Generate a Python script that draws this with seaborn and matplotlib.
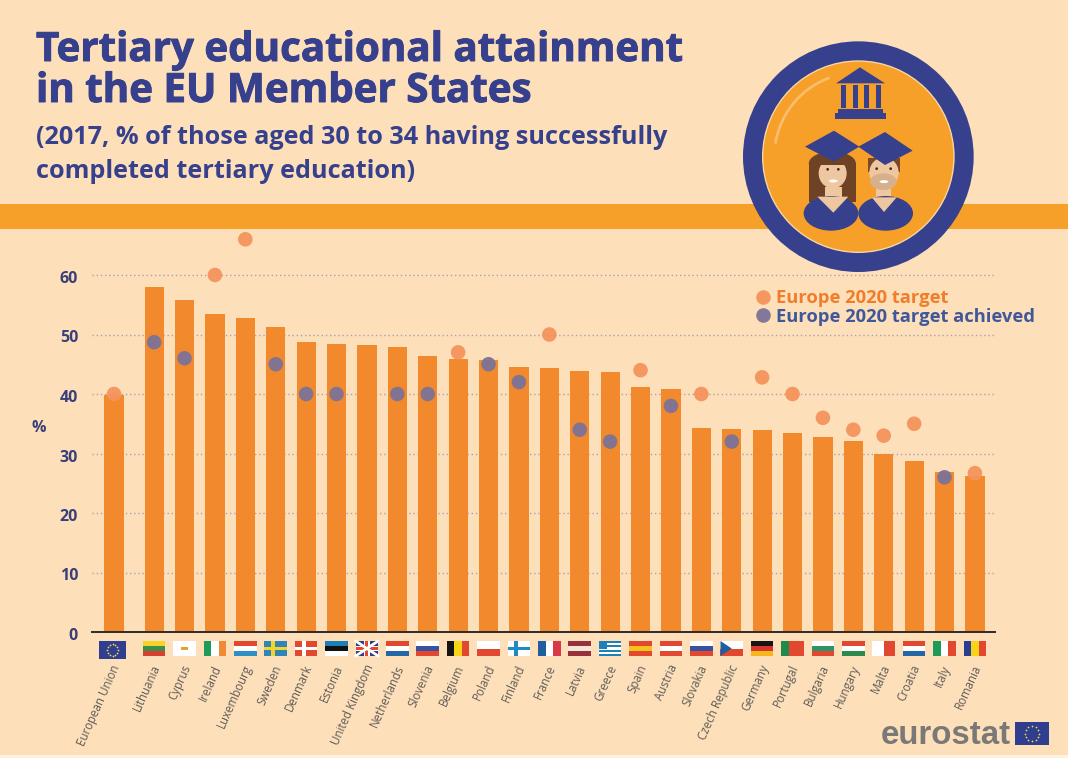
import numpy as np
import pandas as pd
import matplotlib
matplotlib.use('Agg')
import matplotlib.pyplot as plt
import matplotlib.patheffects as pe
import seaborn as sns
from matplotlib.patches import Rectangle, Circle, Ellipse, Polygon, Wedge
from matplotlib.transforms import Affine2D, ScaledTranslation, blended_transform_factory

countries = ['European Union', 'Lithuania', 'Cyprus', 'Ireland', 'Luxembourg', 'Sweden', 'Denmark', 'Estonia',
             'United Kingdom', 'Netherlands', 'Slovenia', 'Belgium', 'Poland', 'Finland', 'France', 'Latvia',
             'Greece', 'Spain', 'Austria', 'Slovakia', 'Czech Republic', 'Germany', 'Portugal', 'Bulgaria',
             'Hungary', 'Malta', 'Croatia', 'Italy', 'Romania']
attainment = [39.9, 58.0, 55.8, 53.5, 52.7, 51.3, 48.8, 48.4, 48.3, 47.9, 46.4, 45.9, 45.7, 44.6, 44.3,
              43.8, 43.7, 41.2, 40.8, 34.3, 34.2, 34.0, 33.5, 32.8, 32.1, 30.0, 28.7, 26.9, 26.3]
target = [40, 48.7, 46, 60, 66, 45, 40, 40, None, 40, 40, 47, 45, 42, 50,
          34, 32, 44, 38, 40, 32, 42.8, 40, 36, 34, 33, 35, 26, 26.7]
achieved = [0, 1, 1, 0, 0, 1, 1, 1, 0, 1, 1, 0, 1, 1, 0,
            1, 1, 0, 1, 0, 1, 0, 0, 0, 0, 0, 0, 1, 0]
y_ticks = [0, 10, 20, 30, 40, 50, 60]

W, H = 1068, 758
BG = '#FDE0B9'
NAVY = '#37408C'
BAND = '#F7A029'
BAR = '#F28A2D'
GREY = '#5F5A58'

# gap after the EU bar
pos = np.r_[0, 1.32 + np.arange(len(countries) - 1)]
df = pd.DataFrame({'country': countries, 'pos': pos, 'attainment': attainment, 'target': target})
df['status'] = np.where(np.array(achieved) == 1, 'Europe 2020 target achieved', 'Europe 2020 target')

sns.set_theme(style='white')
plt.rcParams['font.family'] = ['Open Sans', 'DejaVu Sans']

fig = plt.figure(figsize=(W / 100, H / 100), dpi=100, facecolor=BG)

# background layer in pixel coordinates
bg = fig.add_axes([0, 0, 1, 1], zorder=0)
bg.set_xlim(0, W)
bg.set_ylim(H, 0)
bg.axis('off')
bg.add_patch(Rectangle((0, 204), W, 25, color=BAND, lw=0))
bg.add_patch(Rectangle((0, 755), W, 3, color='#FFF1DE', lw=0))

heavy = [pe.withStroke(linewidth=0.7, foreground=NAVY)]
bg.text(36, 61, 'Tertiary educational attainment', fontsize=29, fontweight='bold', color=NAVY, path_effects=heavy)
bg.text(36, 102, 'in the EU Member States', fontsize=29, fontweight='bold', color=NAVY, path_effects=heavy)
bg.text(36, 144, '(2017, % of those aged 30 to 34 having successfully', fontsize=18.2, fontweight='bold', color=NAVY)
bg.text(36, 178, 'completed tertiary education)', fontsize=18.2, fontweight='bold', color=NAVY)

# main chart
left, right, base, unit = 92, 995, 632, 5.95
ax = fig.add_axes([left / W, (H - base) / H, (right - left) / W, 70 * unit / H], zorder=1)
ax.patch.set_alpha(0)
sns.barplot(data=df, x='pos', y='attainment', native_scale=True, color=BAR, saturation=1, width=0.63,
            linewidth=0, ax=ax)
sns.scatterplot(data=df.dropna(subset=['target']), x='pos', y='target', hue='status',
                palette={'Europe 2020 target': '#F5935B', 'Europe 2020 target achieved': '#7C7396'},
                s=110, linewidth=0, alpha=0.95, zorder=5, ax=ax)

ax.set_xlim((left - 114) / 30.4, (right - 114) / 30.4)
ax.set_ylim(0, 70)
ax.set_yticks(y_ticks)
ax.set_xticks(pos, labels=countries)
ax.tick_params(axis='y', length=0, pad=10, labelsize=11.5, labelcolor='#3B3F78')
ax.tick_params(axis='x', length=0, pad=24, labelsize=8.3, labelcolor=GREY)
down = ScaledTranslation(0, -2 / 100, fig.dpi_scale_trans)
across = ScaledTranslation(3 / 100, 0, fig.dpi_scale_trans)
for t in ax.get_yticklabels():
    t.set_fontweight('bold')
    t.set_transform(t.get_transform() + down)
for t in ax.get_xticklabels():
    t.set_rotation(66)
    t.set_ha('right')
    t.set_va('center')
    t.set_rotation_mode('anchor')
    t.set_transform(t.get_transform() + across)
ax.set_xlabel('')
ax.set_ylabel('%', rotation=0, fontsize=11.5, fontweight='bold', color='#3B3F78', va='center')
ax.yaxis.set_label_coords((39 - left) / (right - left), (base - 428) / (70 * unit))
ax.set_axisbelow(True)
ax.yaxis.grid(True, linestyle=(0, (1, 2)), color='#A8A0B4', linewidth=1)
sns.despine(ax=ax, left=True, top=True, right=True)
ax.spines['bottom'].set_color('#2F2A2A')
ax.spines['bottom'].set_linewidth(1.4)

leg = ax.legend(loc='upper left', bbox_to_anchor=((752 - left) / (right - left), (base - 289) / (70 * unit)),
                frameon=False, fontsize=13.2, handletextpad=0.1, labelspacing=0.03, borderpad=0, borderaxespad=0,
                handlelength=1.2)
for txt, col in zip(leg.get_texts(), ['#F07D2C', '#40589B']):
    txt.set_color(col)
    txt.set_fontweight('bold')

# flags, x in data units of the chart, y in pixels
top_layer = fig.add_axes([0, 0, 1, 1], zorder=2)
top_layer.set_xlim(0, W)
top_layer.set_ylim(H, 0)
top_layer.axis('off')
flag_tr = blended_transform_factory(ax.transData, top_layer.transData)
FW, FY, FH = 0.74, 641, 15


def rect(x, y, w, h, c):
    top_layer.add_patch(Rectangle((x, y), w, h, color=c, lw=0, transform=flag_tr))


def stripes(x, kind, cols):
    n = len(cols)
    for i, c in enumerate(cols):
        if kind == 'h':
            rect(x - FW / 2, FY + i * FH / n, FW, FH / n, c)
        else:
            rect(x - FW / 2 + i * FW / n, FY, FW / n, FH, c)


def cross(x, base_col, col):
    rect(x - FW / 2, FY, FW, FH, base_col)
    rect(x - FW / 2 + FW * 0.3, FY, FW * 0.18, FH, col)
    rect(x - FW / 2, FY + FH * 0.4, FW, FH * 0.2, col)


R, WH, B = '#E2472F', '#FFFFFF', '#1F6FA8'
flags = {
    'Lithuania': ('h', ['#F5D327', '#3F8E4A', '#D5412E']), 'Ireland': ('v', ['#1E9A59', WH, '#F08A33']),
    'Luxembourg': ('h', [R, WH, '#2E8FC4']), 'Estonia': ('h', ['#1C7FB5', '#111111', WH]),
    'Netherlands': ('h', [R, WH, '#2467A5']), 'Slovenia': ('h', [WH, '#3852A0', R]),
    'Belgium': ('v', ['#151515', '#F7D417', R]), 'Poland': ('h', [WH, R]),
    'France': ('v', ['#1F5FA0', WH, '#D83A4A']), 'Latvia': ('h', ['#97323A', '#F6E6D6', '#97323A']),
    'Spain': ('h', [R, '#F6C21C', R]), 'Austria': ('h', [R, WH, R]), 'Slovakia': ('h', [WH, '#3852A0', R]),
    'Germany': ('h', ['#151515', '#D9352A', '#F5B81C']), 'Portugal': ('v', ['#1E8A4C', R, R]),
    'Bulgaria': ('h', [WH, '#2C9466', R]), 'Hungary': ('h', [R, WH, '#2C8A4E']), 'Malta': ('v', [WH, R]),
    'Croatia': ('h', [R, WH, '#2467A5']), 'Italy': ('v', ['#1E9A59', WH, R]),
    'Romania': ('v', ['#2A3F8F', '#F7D417', R]),
}
for name, x in zip(countries, pos):
    if name in flags:
        stripes(x, *flags[name])
    elif name == 'Cyprus':
        stripes(x, 'h', [WH])
        rect(x - 0.1, FY + 6, 0.22, 3, '#E5A32E')
    elif name == 'Sweden':
        cross(x, '#2E86B8', '#F5D327')
    elif name == 'Denmark':
        cross(x, R, WH)
    elif name == 'Finland':
        cross(x, WH, '#1F8AC4')
    elif name == 'United Kingdom':
        stripes(x, 'h', ['#2E3F86'])
        top_layer.plot([x - FW / 2, x + FW / 2], [FY, FY + FH], color=WH, lw=2, transform=flag_tr)
        top_layer.plot([x - FW / 2, x + FW / 2], [FY + FH, FY], color=WH, lw=2, transform=flag_tr)
        rect(x - 0.09, FY, 0.18, FH, WH)
        rect(x - FW / 2, FY + 5, FW, 5, WH)
        rect(x - 0.05, FY, 0.1, FH, R)
        rect(x - FW / 2, FY + 6, FW, 3, R)
    elif name == 'Greece':
        stripes(x, 'h', ['#1F7FB8', WH, '#1F7FB8', WH, '#1F7FB8', WH, '#1F7FB8'])
        rect(x - FW / 2, FY, FW * 0.38, FH * 0.55, '#1F7FB8')
    elif name == 'Czech Republic':
        stripes(x, 'h', [WH, R])
        top_layer.add_patch(Polygon([(x - FW / 2, FY), (x, FY + FH / 2), (x - FW / 2, FY + FH)], color='#1F5FA0',
                                    lw=0, transform=flag_tr))


# EU flag + eurostat logo
def eu_flag(x0, y0, w, h):
    top_layer.add_patch(Rectangle((x0, y0), w, h, color='#2F3E8E', lw=0))
    a = np.linspace(0, 2 * np.pi, 12, endpoint=False)
    top_layer.scatter(x0 + w / 2 + h * 0.32 * np.cos(a), y0 + h / 2 + h * 0.32 * np.sin(a),
                      s=1.6, color='#F4D65A', linewidths=0)


eu_flag(99, 641, 27, 18)
eu_flag(1015, 722, 34, 23)
top_layer.text(881, 744, 'eurostat', fontsize=23.8, fontweight='bold', color='#7B7977', family='Liberation Sans')

# medallion, drawn in the coordinates of a 3x crop
med = Affine2D().scale(1 / 3).translate(730, 30) + top_layer.transData


def add(p):
    p.set_transform(med)
    p.set_linewidth(0)
    top_layer.add_patch(p)


add(Circle((385, 380), 346, color=NAVY))
add(Circle((385, 380), 289, color='#F5D9A8'))
add(Circle((385, 380), 285, color=BAND))
add(Wedge((385, 380), 256, 189, 250, width=8, color='#F9BE6C'))
# temple
add(Polygon([(390, 112), (465, 160), (318, 160)], color=NAVY))
for cx in [333, 368, 403, 438]:
    add(Rectangle((cx, 165), 15, 70, color=NAVY))
add(Rectangle((325, 237), 133, 11, color=NAVY))
add(Rectangle((315, 250), 153, 18, color=NAVY))
# woman
add(Rectangle((237, 400), 141, 115, color='#6E4325'))
add(Ellipse((307, 400), 141, 70, color='#6E4325'))
add(Rectangle((285, 470), 50, 60, color='#EEC7A0'))
add(Ellipse((308, 430), 84, 90, color='#EEC7A0'))
add(Rectangle((266, 380), 84, 26, color='#6E4325'))
add(Ellipse((303, 550), 164, 104, color=NAVY))
add(Polygon([(262, 500), (310, 548), (355, 500)], color='#EEC7A0'))
# man
add(Rectangle((438, 470), 45, 60, color='#EEC7A0'))
add(Rectangle((415, 385), 95, 40, color='#7A4A28'))
add(Ellipse((462, 428), 88, 92, color='#EEC7A0'))
add(Ellipse((460, 455), 80, 50, color='#D5B08A'))
add(Ellipse((467, 550), 164, 104, color=NAVY))
add(Polygon([(425, 502), (462, 546), (500, 502)], color='#EEC7A0'))
# caps
add(Polygon([(225, 350), (312, 302), (388, 350), (312, 395)], color=NAVY))
add(Polygon([(385, 350), (465, 306), (548, 362), (465, 405)], color=NAVY))
# faces
for ex, ey in [(293, 418), (325, 418), (440, 416), (482, 416)]:
    add(Circle((ex, ey), 4, color='#3A2A20'))
add(Ellipse((310, 453), 26, 9, color=WH))
add(Ellipse((462, 455), 26, 9, color=WH))

fig.savefig('out.png', dpi=100, facecolor=BG)
